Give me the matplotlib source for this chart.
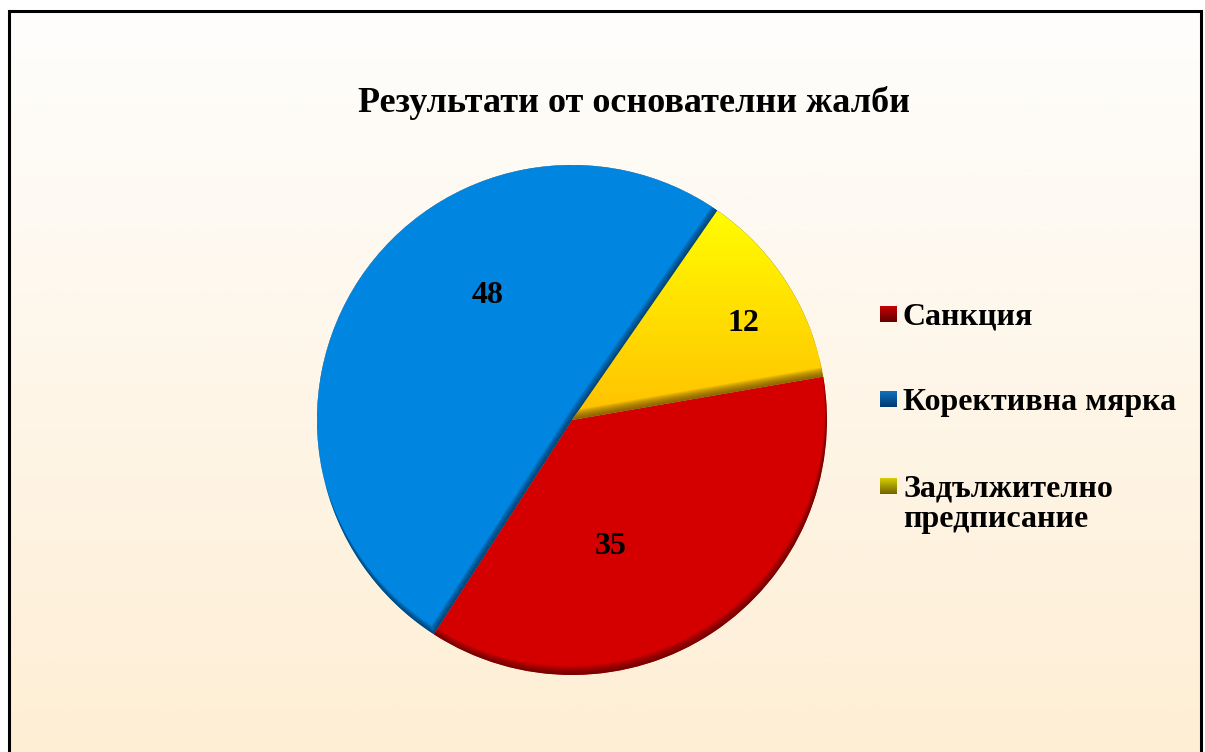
import numpy as np
import matplotlib
matplotlib.use("Agg")
import matplotlib.pyplot as plt
from matplotlib.path import Path
from matplotlib.patches import PathPatch
from matplotlib.colors import LinearSegmentedColormap

# ---- data ----
title = "Результати от основателни жалби"
categories = ["Санкция", "Корективна мярка", "Задължително\nпредписание"]
values = [35, 48, 12]

# ---- style ----
slice_colors = ["#D40000", "#0085E0", "#FFD000"]
dark_colors = ["#500000", "#002C50", "#604000"]
legend_top = ["#C80000", "#1070C0", "#D8D000"]
legend_bot = ["#600000", "#003A70", "#706000"]
W, H = 1205, 752
DPI = 100

fig = plt.figure(figsize=(W / DPI, H / DPI), dpi=DPI)
fig.patch.set_facecolor("white")

# background / overlay axes in pixel coordinates (y down)
bg = fig.add_axes([0, 0, 1, 1], zorder=0)
bg.set_xlim(0, W)
bg.set_ylim(H, 0)
bg.axis("off")
grad = np.linspace(0, 1, 256).reshape(-1, 1)
bg_cmap = LinearSegmentedColormap.from_list("bg", ["#FEFEFD", "#FEEED4"])
bg.imshow(grad, cmap=bg_cmap, extent=[9, 1201, H + 5, 11], aspect="auto", zorder=0)
bg.plot([9, 9, 1201, 1201], [H + 5, 11, 11, H + 5], color="black", lw=2.2, zorder=1,
        solid_joinstyle="miter")

# title
bg.text(634, 112, title, ha="center", va="baseline", fontsize=26, fontweight="bold",
        family="Liberation Serif", zorder=3)

# legend (manual)
leg_y = [325, 410, 497]
line_step = 30
for i, lab in enumerate(categories):
    y0 = leg_y[i] - 19
    cm = LinearSegmentedColormap.from_list("l%d" % i, [legend_top[i], legend_bot[i]])
    bg.imshow(grad, cmap=cm, extent=[880, 897, y0 + 16, y0], aspect="auto", zorder=3)
    for k, line in enumerate(lab.split("\n")):
        bg.text(903, leg_y[i] + k * line_step, line, ha="left", va="baseline", fontsize=23,
                fontweight="bold", family="Liberation Serif", zorder=3)

# pie axes
cx, cy, R = 572, 420, 255
pad = 265
ax = fig.add_axes([(cx - pad) / W, (H - cy - pad) / H, 2 * pad / W, 2 * pad / H], zorder=2)
ax.patch.set_alpha(0)

wedges, _ = ax.pie(values, colors=slice_colors, startangle=9.8, counterclock=False,
                   radius=1.0, center=(0, 0), wedgeprops=dict(linewidth=0))
ax.set_xlim(-pad / R, pad / R)
ax.set_ylim(-pad / R, pad / R)
ax.set_aspect("equal")
ax.axis("off")


def wedge_poly(w):
    t = np.radians(np.linspace(w.theta1, w.theta2, 200))
    xs = np.concatenate([[0], np.cos(t) * w.r, [0]])
    ys = np.concatenate([[0], np.sin(t) * w.r, [0]])
    return np.column_stack([xs, ys])


for i, w in enumerate(wedges):
    poly = wedge_poly(w)
    clip = PathPatch(Path(poly), transform=ax.transData, facecolor="none", edgecolor="none")
    ax.add_patch(clip)
    if i == 2:
        # vertical gradient for yellow slice
        w.set_facecolor("none")
        ycm = LinearSegmentedColormap.from_list("y", ["#FFFF00", "#FFC000"])
        im = ax.imshow(grad, cmap=ycm, extent=[0, 1.05, 0.0, 0.85], aspect="auto", zorder=1.5)
        im.set_clip_path(clip)
    # inner shadow (light from top): band along downward-facing edges
    N = 9
    for s in range(1, N + 1):
        d = s / R
        off = np.array([-0.25 * d, d])
        shifted = (poly + off)[::-1]
        verts = np.vstack([poly, shifted])
        codes = ([Path.MOVETO] + [Path.LINETO] * (len(poly) - 2) + [Path.CLOSEPOLY]) * 2
        sp = PathPatch(Path(verts, codes), facecolor=dark_colors[i], edgecolor="none",
                       alpha=0.12, zorder=3)
        ax.add_patch(sp)
        sp.set_clip_path(clip)

# value labels
label_pos = [(0.153, -0.498), (-0.329, 0.490), (0.671, 0.380)]
for v, (lx, ly) in zip(values, label_pos):
    ax.text(lx, ly, str(v), ha="center", va="center", fontsize=23, fontweight="bold",
            family="Liberation Serif", zorder=5)

fig.savefig("out.png", dpi=DPI, facecolor="white")
